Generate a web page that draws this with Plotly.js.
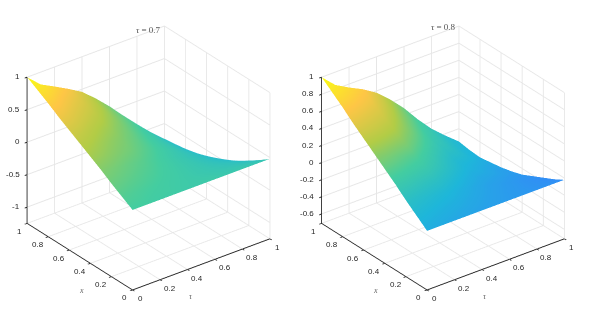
<!DOCTYPE html>
<html><head><meta charset="utf-8"><script src="https://cdn.plot.ly/plotly-3.0.1.min.js"></script>
<style>html,body{margin:0;padding:0;background:#fff}#c{width:593px;height:316px}</style></head>
<body><div id="c"></div><script>
const xVals=[0,.1,.2,.3,.4,.5,.6,.7,.8,.9,1];
const tauVals=[0,.1,.2,.3,.4,.5,.6,.7,.8,.9,1];
const tickVals=[0,.2,.4,.6,.8,1];
const zLeft=[
[-.02,-.02,-.02,-.02,-.02,-.02,-.02,-.02,-.02,-.02,-.02],
[.08,.07,.06,.05,.04,.02,-.01,-.04,-.07,-.11,-.14],
[.18,.16,.14,.12,.10,.06,.01,-.06,-.12,-.19,-.25],
[.29,.24,.22,.19,.15,.09,.02,-.07,-.17,-.26,-.36],
[.39,.33,.29,.25,.21,.13,.03,-.09,-.21,-.33,-.45],
[.49,.41,.37,.32,.26,.16,.04,-.11,-.25,-.40,-.54],
[.59,.49,.44,.38,.30,.19,.05,-.12,-.28,-.45,-.60],
[.69,.57,.51,.43,.35,.21,.06,-.13,-.30,-.49,-.65],
[.80,.65,.57,.49,.39,.24,.07,-.14,-.33,-.52,-.70],
[.90,.73,.64,.54,.42,.26,.07,-.14,-.35,-.55,-.73],
[1,.81,.70,.585,.46,.28,.08,-.15,-.36,-.57,-.75]];
const zRight=[
[-.02,-.02,-.02,-.02,-.02,-.02,-.02,-.02,-.02,-.02,-.02],
[.08,.06,.05,.04,.03,.01,-.01,-.04,-.06,-.07,-.09],
[.18,.15,.12,.10,.07,.04,0,-.04,-.08,-.12,-.15],
[.29,.23,.20,.16,.12,.07,.02,-.05,-.11,-.16,-.21],
[.39,.32,.27,.23,.17,.10,.03,-.06,-.14,-.21,-.27],
[.49,.40,.35,.29,.23,.15,.05,-.05,-.15,-.23,-.31],
[.59,.49,.42,.36,.29,.20,.09,-.04,-.15,-.25,-.34],
[.69,.58,.50,.44,.36,.25,.12,-.02,-.15,-.26,-.36],
[.80,.67,.59,.51,.42,.30,.16,0,-.14,-.27,-.38],
[.90,.76,.67,.59,.50,.37,.22,.04,-.12,-.25,-.37],
[1,.85,.76,.68,.58,.44,.28,.09,-.08,-.22,-.35]];
const colorLeft=[
[.57,.57,.56,.56,.55,.55,.55,.54,.54,.53,.53],
[.593,.584,.576,.567,.557,.545,.534,.524,.514,.507,.50],
[.623,.61,.597,.583,.566,.547,.53,.513,.497,.486,.477],
[.654,.636,.618,.601,.577,.55,.526,.502,.482,.467,.455],
[.696,.674,.651,.629,.598,.564,.534,.503,.477,.458,.444],
[.733,.706,.679,.652,.615,.573,.536,.499,.467,.445,.43],
[.778,.746,.715,.683,.64,.59,.546,.503,.465,.44,.43],
[.831,.795,.759,.722,.672,.615,.565,.515,.471,.442,.43],
[.884,.843,.802,.762,.705,.64,.583,.526,.478,.445,.43],
[.939,.894,.848,.803,.739,.667,.604,.54,.486,.449,.43],
[1,.95,.90,.85,.78,.70,.63,.56,.50,.46,.43]];
const colorRight=[
[.40,.39,.38,.37,.36,.35,.34,.33,.32,.31,.30],
[.44,.426,.413,.40,.383,.365,.348,.334,.32,.306,.294],
[.485,.467,.451,.435,.411,.385,.361,.343,.325,.307,.293],
[.545,.523,.504,.485,.454,.42,.389,.367,.345,.323,.307],
[.61,.584,.562,.54,.502,.46,.422,.396,.37,.344,.326],
[.67,.64,.615,.59,.545,.495,.45,.42,.39,.36,.34],
[.74,.706,.678,.65,.598,.54,.488,.454,.42,.386,.364],
[.81,.772,.741,.71,.651,.585,.526,.488,.45,.412,.388],
[.875,.833,.80,.765,.699,.625,.559,.517,.475,.433,.407],
[.94,.894,.857,.82,.747,.665,.592,.546,.50,.454,.426],
[1,.95,.91,.87,.79,.70,.62,.57,.52,.47,.44]];
const zRangeLeft=[-1.25,1], zRangeRight=[-.71,1];
const zTicksLeft=[-1,-.5,0,.5,1], zTicksRight=[-.6,-.4,-.2,0,.2,.4,.6,.8,1];
const parula=[[0,'rgb(62,38,168)'],[.1429,'rgb(72,82,244)'],[.2857,'rgb(50,140,247)'],[.4286,'rgb(30,182,218)'],[.5714,'rgb(68,205,160)'],[.7143,'rgb(178,204,70)'],[.8571,'rgb(254,198,70)'],[1,'rgb(249,251,21)']];
const flat={ambient:1,diffuse:0,specular:0,roughness:1,fresnel:0};
function meshTraces(z,c,scene){return [
 {type:'surface',scene,x:tauVals,y:xVals,z,surfacecolor:c,colorscale:parula,cmin:0,cmax:1,showscale:false,lighting:flat,hoverinfo:'skip',
  contours:{x:{highlight:false},y:{highlight:false},z:{highlight:false}}}
];}
function axis(vals,range){return {title:{text:''},range,tickmode:'array',tickvals:vals,showticklabels:false,ticks:'outside',ticklen:3,tickcolor:'#262626',tickwidth:2,showline:true,linecolor:'#262626',linewidth:2,
 gridcolor:'#e6e6e6',gridwidth:2,zeroline:false,showspikes:false,showbackground:false};}
const tf={family:'Liberation Sans',size:8,color:'#262626'}, sf={family:'Liberation Serif',size:8,color:'#666'};
function note(x,y,z,text,xshift,yshift,xanchor,font){return {x,y,z,text:text,xshift,yshift,xanchor,yanchor:'middle',showarrow:false,font};}
function labels(zr,zt){const b=zr[0],a=[];
 for(const t of tickVals){const e=(t===0||t===1)?8:10;
  a.push(note(0,t,b,String(t),-e,-8,'center',tf));
  a.push(note(t,0,b,String(t),e,-8.5,'center',tf));}
 for(const t of zt)a.push(note(0,1,t,String(t),-5.5,0.5,'right',tf));
 a.push(note(0,.5,b,'<i>x</i>',1.7,-33.5,'center',sf));
 a.push(note(.5,0,b,'<i>τ</i>',-9.8,-31.7,'center',sf));
 return a;}
function scene(dom,zr,zt){const d=2;return {domain:{x:dom,y:[0,1]},aspectmode:'manual',aspectratio:{x:1.096,y:1.096,z:1.058},
 xaxis:axis(tickVals,[0,1]),yaxis:axis(tickVals,[0,1]),zaxis:axis(zt,zr),annotations:labels(zr,zt),
 camera:{projection:{type:'orthographic'},eye:{x:-.533*d,y:-.694*d,z:.485*d},center:{x:0,y:0,z:0},up:{x:0,y:0,z:1}}};}
const layout={width:593,height:316,margin:{l:0,r:0,t:0,b:0},paper_bgcolor:'#fff',showlegend:false,
 scene:scene([0,.5],zRangeLeft,zTicksLeft),scene2:scene([.4968,.9958],zRangeRight,zTicksRight),
 annotations:[
 {xref:'paper',yref:'paper',x:148/593,y:1-23/316,xanchor:'center',text:'<i>τ</i> = 0.7',showarrow:false,font:{family:'Liberation Serif',size:9,color:'#555'}},
 {xref:'paper',yref:'paper',x:443/593,y:1-20/316,xanchor:'center',text:'<i>τ</i> = 0.8',showarrow:false,font:{family:'Liberation Serif',size:9,color:'#555'}}]};
Plotly.newPlot('c',[...meshTraces(zLeft,colorLeft,'scene'),...meshTraces(zRight,colorRight,'scene2')],layout,{displayModeBar:false});
</script></body></html>
